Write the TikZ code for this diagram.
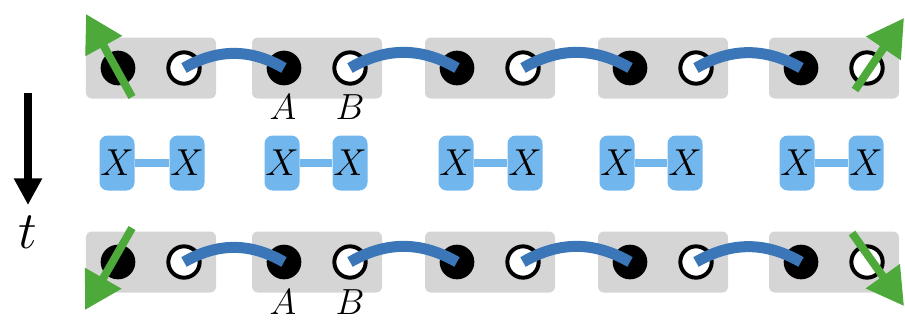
\documentclass[tikz,border=0pt]{standalone}
\usepackage{fix-cm}
\usetikzlibrary{arrows.meta}

\definecolor{cellgray}{HTML}{D5D5D5}
\definecolor{bondblue}{HTML}{3A76B8}
\definecolor{xblue}{HTML}{72B6EE}
\definecolor{spingreen}{HTML}{4DAA3A}

\tikzset{
  cell/.style={fill=cellgray, rounded corners=5pt, minimum width=3.9cm, minimum height=1.83cm, inner sep=0pt},
  fulldot/.style={circle, fill=black, minimum size=1.04cm, inner sep=0pt},
  emptydot/.style={circle, draw=black, fill=white, line width=3.4pt, minimum size=0.94cm, inner sep=0pt},
  bond/.style={bondblue, line width=9.4pt},
  xbox/.style={fill=xblue, rounded corners=7pt, minimum width=1.05cm, minimum height=1.65cm, inner sep=0pt, font=\fontsize{32}{36}\selectfont},
  xbar/.style={xblue, line width=7.5pt},
  spin/.style={spingreen, line width=6.8pt, -{Triangle[length=1.1cm, width=1.2cm]}},
  lab/.style={inner sep=1pt, font=\fontsize{31}{36}\selectfont}
}

\begin{document}
\begin{tikzpicture}[x=0.03cm, y=0.03cm]
  \useasboundingbox (0,0) rectangle (905,-322);

  % Time arrow
  \coordinate (t0) at (28,-93);
  \coordinate (t1) at (28,-205);
  \draw[line width=6pt, -{Triangle[length=0.8cm, width=0.8cm]}] (t0) -- (t1);
  \node[font=\fontsize{45}{50}\selectfont] (tlab) at (28,-232) {$t$};

  % Two rows of cells, each with a filled and an empty site
  \foreach \r/\y in {t/-68, b/-262} {
    \foreach \i/\c in {1/151, 2/317, 3/490, 4/663, 5/834} {
      \node[cell] (\r c\i) at (\c,\y) {};
      \node[fulldot] (\r b\i) at ({\c-33},\y) {};
      \node[emptydot] (\r w\i) at ({\c+33},\y) {};
    }
    % Bonds between neighbouring cells
    \foreach \i/\j in {1/2, 2/3, 3/4, 4/5}
      \draw[bond] (\r w\i.center) to[bend left=30] (\r b\j.center);
  }

  % Site labels
  \node[lab] (tA) at (283,-107) {$A$};
  \node[lab] (tB) at (350,-107) {$B$};
  \node[lab] (bA) at (283,-302) {$A$};
  \node[lab] (bB) at (350,-302) {$B$};

  % Middle row: X--X pairs
  \foreach \i/\l/\r in {1/117/187, 2/282/350, 3/456/525, 4/617/685, 5/797/866} {
    \node[xbox] (xl\i) at (\l,-163) {$X$};
    \node[xbox] (xr\i) at (\r,-163) {$X$};
    \draw[xbar] (xl\i.east) -- (xr\i.west);
  }

  % Edge spins
  \coordinate (s1) at (132,-97);  \coordinate (e1) at (86,-14);
  \coordinate (s2) at (855,-90);  \coordinate (e2) at (904,-18);
  \coordinate (s3) at (132,-228); \coordinate (e3) at (85,-310);
  \coordinate (s4) at (852,-233); \coordinate (e4) at (904,-306);
  \foreach \i in {1,...,4}
    \draw[spin] (s\i) -- (e\i);
\end{tikzpicture}
\end{document}
